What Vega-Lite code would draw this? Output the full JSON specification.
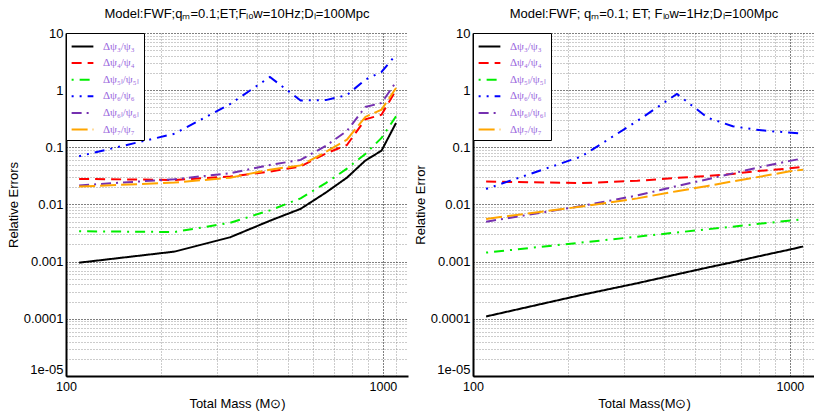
{
  "$schema": "https://vega.github.io/schema/vega-lite/v6.json",
  "background": "white",
  "padding": {"left": 7, "top": 8, "right": 0, "bottom": 0},
  "spacing": 6,
  "datasets": {
    "left": [
      {"m": 110, "v": 0.00096, "s": "Δψ₃/ψ₃"}, {"m": 220, "v": 0.0015, "s": "Δψ₃/ψ₃"}, {"m": 330, "v": 0.00268, "s": "Δψ₃/ψ₃"}, {"m": 440, "v": 0.0052, "s": "Δψ₃/ψ₃"}, {"m": 550, "v": 0.0084, "s": "Δψ₃/ψ₃"}, {"m": 660, "v": 0.0161, "s": "Δψ₃/ψ₃"}, {"m": 770, "v": 0.0295, "s": "Δψ₃/ψ₃"}, {"m": 880, "v": 0.0586, "s": "Δψ₃/ψ₃"}, {"m": 990, "v": 0.0875, "s": "Δψ₃/ψ₃"}, {"m": 1100, "v": 0.267, "s": "Δψ₃/ψ₃"},
      {"m": 110, "v": 0.028, "s": "Δψ₄/ψ₄"}, {"m": 220, "v": 0.0269, "s": "Δψ₄/ψ₄"}, {"m": 330, "v": 0.0308, "s": "Δψ₄/ψ₄"}, {"m": 440, "v": 0.0376, "s": "Δψ₄/ψ₄"}, {"m": 550, "v": 0.0463, "s": "Δψ₄/ψ₄"}, {"m": 660, "v": 0.078, "s": "Δψ₄/ψ₄"}, {"m": 770, "v": 0.11, "s": "Δψ₄/ψ₄"}, {"m": 880, "v": 0.308, "s": "Δψ₄/ψ₄"}, {"m": 990, "v": 0.373, "s": "Δψ₄/ψ₄"}, {"m": 1100, "v": 1.0, "s": "Δψ₄/ψ₄"},
      {"m": 110, "v": 0.0034, "s": "Δψ₅ₗ/ψ₅ₗ"}, {"m": 220, "v": 0.0033, "s": "Δψ₅ₗ/ψ₅ₗ"}, {"m": 330, "v": 0.0048, "s": "Δψ₅ₗ/ψ₅ₗ"}, {"m": 440, "v": 0.0079, "s": "Δψ₅ₗ/ψ₅ₗ"}, {"m": 550, "v": 0.0128, "s": "Δψ₅ₗ/ψ₅ₗ"}, {"m": 660, "v": 0.0237, "s": "Δψ₅ₗ/ψ₅ₗ"}, {"m": 770, "v": 0.0423, "s": "Δψ₅ₗ/ψ₅ₗ"}, {"m": 880, "v": 0.0767, "s": "Δψ₅ₗ/ψ₅ₗ"}, {"m": 990, "v": 0.146, "s": "Δψ₅ₗ/ψ₅ₗ"}, {"m": 1100, "v": 0.35, "s": "Δψ₅ₗ/ψ₅ₗ"},
      {"m": 110, "v": 0.07, "s": "Δψ₆/ψ₆"}, {"m": 220, "v": 0.173, "s": "Δψ₆/ψ₆"}, {"m": 330, "v": 0.574, "s": "Δψ₆/ψ₆"}, {"m": 440, "v": 1.7, "s": "Δψ₆/ψ₆"}, {"m": 550, "v": 0.66, "s": "Δψ₆/ψ₆"}, {"m": 660, "v": 0.67, "s": "Δψ₆/ψ₆"}, {"m": 770, "v": 0.82, "s": "Δψ₆/ψ₆"}, {"m": 880, "v": 1.53, "s": "Δψ₆/ψ₆"}, {"m": 990, "v": 2.08, "s": "Δψ₆/ψ₆"}, {"m": 1100, "v": 4.18, "s": "Δψ₆/ψ₆"},
      {"m": 110, "v": 0.0216, "s": "Δψ₆ₗ/ψ₆ₗ"}, {"m": 220, "v": 0.0277, "s": "Δψ₆ₗ/ψ₆ₗ"}, {"m": 330, "v": 0.0352, "s": "Δψ₆ₗ/ψ₆ₗ"}, {"m": 440, "v": 0.0492, "s": "Δψ₆ₗ/ψ₆ₗ"}, {"m": 550, "v": 0.0603, "s": "Δψ₆ₗ/ψ₆ₗ"}, {"m": 660, "v": 0.1057, "s": "Δψ₆ₗ/ψ₆ₗ"}, {"m": 770, "v": 0.194, "s": "Δψ₆ₗ/ψ₆ₗ"}, {"m": 880, "v": 0.508, "s": "Δψ₆ₗ/ψ₆ₗ"}, {"m": 990, "v": 0.597, "s": "Δψ₆ₗ/ψ₆ₗ"}, {"m": 1100, "v": 1.39, "s": "Δψ₆ₗ/ψ₆ₗ"},
      {"m": 110, "v": 0.0206, "s": "Δψ₇/ψ₇"}, {"m": 220, "v": 0.0242, "s": "Δψ₇/ψ₇"}, {"m": 330, "v": 0.0295, "s": "Δψ₇/ψ₇"}, {"m": 440, "v": 0.0407, "s": "Δψ₇/ψ₇"}, {"m": 550, "v": 0.0483, "s": "Δψ₇/ψ₇"}, {"m": 660, "v": 0.083, "s": "Δψ₇/ψ₇"}, {"m": 770, "v": 0.136, "s": "Δψ₇/ψ₇"}, {"m": 880, "v": 0.34, "s": "Δψ₇/ψ₇"}, {"m": 990, "v": 0.456, "s": "Δψ₇/ψ₇"}, {"m": 1100, "v": 1.09, "s": "Δψ₇/ψ₇"}
    ],
    "right": [
      {"m": 110, "v": 0.00011, "s": "Δψ₃/ψ₃"}, {"m": 220, "v": 0.000262, "s": "Δψ₃/ψ₃"}, {"m": 330, "v": 0.00042, "s": "Δψ₃/ψ₃"}, {"m": 440, "v": 0.0006, "s": "Δψ₃/ψ₃"}, {"m": 550, "v": 0.00079, "s": "Δψ₃/ψ₃"}, {"m": 660, "v": 0.00098, "s": "Δψ₃/ψ₃"}, {"m": 770, "v": 0.00119, "s": "Δψ₃/ψ₃"}, {"m": 880, "v": 0.0014, "s": "Δψ₃/ψ₃"}, {"m": 990, "v": 0.00161, "s": "Δψ₃/ψ₃"}, {"m": 1100, "v": 0.00184, "s": "Δψ₃/ψ₃"},
      {"m": 110, "v": 0.0252, "s": "Δψ₄/ψ₄"}, {"m": 220, "v": 0.0237, "s": "Δψ₄/ψ₄"}, {"m": 330, "v": 0.026, "s": "Δψ₄/ψ₄"}, {"m": 440, "v": 0.0292, "s": "Δψ₄/ψ₄"}, {"m": 550, "v": 0.0316, "s": "Δψ₄/ψ₄"}, {"m": 660, "v": 0.0343, "s": "Δψ₄/ψ₄"}, {"m": 770, "v": 0.0379, "s": "Δψ₄/ψ₄"}, {"m": 880, "v": 0.0403, "s": "Δψ₄/ψ₄"}, {"m": 990, "v": 0.0427, "s": "Δψ₄/ψ₄"}, {"m": 1100, "v": 0.0458, "s": "Δψ₄/ψ₄"},
      {"m": 110, "v": 0.00144, "s": "Δψ₅ₗ/ψ₅ₗ"}, {"m": 220, "v": 0.00216, "s": "Δψ₅ₗ/ψ₅ₗ"}, {"m": 330, "v": 0.00274, "s": "Δψ₅ₗ/ψ₅ₗ"}, {"m": 440, "v": 0.00324, "s": "Δψ₅ₗ/ψ₅ₗ"}, {"m": 550, "v": 0.00369, "s": "Δψ₅ₗ/ψ₅ₗ"}, {"m": 660, "v": 0.0041, "s": "Δψ₅ₗ/ψ₅ₗ"}, {"m": 770, "v": 0.00449, "s": "Δψ₅ₗ/ψ₅ₗ"}, {"m": 880, "v": 0.00485, "s": "Δψ₅ₗ/ψ₅ₗ"}, {"m": 990, "v": 0.0052, "s": "Δψ₅ₗ/ψ₅ₗ"}, {"m": 1100, "v": 0.00553, "s": "Δψ₅ₗ/ψ₅ₗ"},
      {"m": 110, "v": 0.0187, "s": "Δψ₆/ψ₆"}, {"m": 220, "v": 0.0693, "s": "Δψ₆/ψ₆"}, {"m": 330, "v": 0.29, "s": "Δψ₆/ψ₆"}, {"m": 440, "v": 0.859, "s": "Δψ₆/ψ₆"}, {"m": 550, "v": 0.33, "s": "Δψ₆/ψ₆"}, {"m": 660, "v": 0.234, "s": "Δψ₆/ψ₆"}, {"m": 770, "v": 0.206, "s": "Δψ₆/ψ₆"}, {"m": 880, "v": 0.191, "s": "Δψ₆/ψ₆"}, {"m": 990, "v": 0.182, "s": "Δψ₆/ψ₆"}, {"m": 1100, "v": 0.174, "s": "Δψ₆/ψ₆"},
      {"m": 110, "v": 0.005, "s": "Δψ₆ₗ/ψ₆ₗ"}, {"m": 220, "v": 0.0094, "s": "Δψ₆ₗ/ψ₆ₗ"}, {"m": 330, "v": 0.0144, "s": "Δψ₆ₗ/ψ₆ₗ"}, {"m": 440, "v": 0.021, "s": "Δψ₆ₗ/ψ₆ₗ"}, {"m": 550, "v": 0.0277, "s": "Δψ₆ₗ/ψ₆ₗ"}, {"m": 660, "v": 0.035, "s": "Δψ₆ₗ/ψ₆ₗ"}, {"m": 770, "v": 0.0426, "s": "Δψ₆ₗ/ψ₆ₗ"}, {"m": 880, "v": 0.05, "s": "Δψ₆ₗ/ψ₆ₗ"}, {"m": 990, "v": 0.0574, "s": "Δψ₆ₗ/ψ₆ₗ"}, {"m": 1100, "v": 0.064, "s": "Δψ₆ₗ/ψ₆ₗ"},
      {"m": 110, "v": 0.0056, "s": "Δψ₇/ψ₇"}, {"m": 220, "v": 0.0092, "s": "Δψ₇/ψ₇"}, {"m": 330, "v": 0.0128, "s": "Δψ₇/ψ₇"}, {"m": 440, "v": 0.0171, "s": "Δψ₇/ψ₇"}, {"m": 550, "v": 0.0211, "s": "Δψ₇/ψ₇"}, {"m": 660, "v": 0.0254, "s": "Δψ₇/ψ₇"}, {"m": 770, "v": 0.0294, "s": "Δψ₇/ψ₇"}, {"m": 880, "v": 0.0336, "s": "Δψ₇/ψ₇"}, {"m": 990, "v": 0.0378, "s": "Δψ₇/ψ₇"}, {"m": 1100, "v": 0.0407, "s": "Δψ₇/ψ₇"}
    ]
  },
  "config": {
    "font": "Liberation Sans",
    "view": {"stroke": null},
    "title": {"fontSize": 13, "font": "Liberation Sans", "fontWeight": "normal", "color": "black", "offset": 6, "anchor": "middle"},
    "axis": {
      "domainColor": "black", "domainWidth": 2, "ticks": false,
      "labelFont": "Liberation Sans", "labelFontSize": 13, "labelColor": "black",
      "titleFont": "Liberation Sans", "titleFontSize": 13, "titleFontWeight": "normal", "titleColor": "black",
      "labelOverlap": false, "labelFlush": false, "labelPadding": 3, "titlePadding": 3,
      "gridDash": [1, 2], "gridWidth": 1, "gridOpacity": 1
    },
    "axisX": {"titlePadding": 5, "labelPadding": 4},
    "legend": {
      "orient": "top-left", "offset": 0, "title": null,
      "strokeColor": "black", "fillColor": "white", "padding": 5, "cornerRadius": 0,
      "labelFont": "Liberation Serif", "labelFontSize": 11, "labelColor": "#9966DD",
      "symbolType": "M-1.45,0H1.45", "symbolSize": 225, "symbolStrokeWidth": 2, "symbolOffset": 3,
      "labelOffset": 12, "rowPadding": 2.6
    },
    "line": {"strokeWidth": 2, "clip": true}
  },
  "hconcat": [
    {
      "width": 342, "height": 343,
      "title": "Model:FWF;qₘ=0.1;ET;Fₗₒw=10Hz;Dₗ=100Mpc",
      "data": {"name": "left"},
      "mark": {"type": "line"},
      "encoding": {
        "x": {"field": "m", "type": "quantitative", "scale": {"type": "log", "domain": [100, 1200], "nice": false},
          "axis": {"title": "Total Mass (M⊙)", "labelFontSize": 12.5,
            "values": [100, 200, 300, 400, 500, 600, 700, 800, 900, 1000, 1100],
            "labelExpr": "datum.value == 100 || datum.value == 1000 ? toString(datum.value) : ''",
            "gridColor": {"condition": {"test": "datum.value == 100 || datum.value == 1000", "value": "black"}, "value": "#999999"}}},
        "y": {"field": "v", "type": "quantitative", "scale": {"type": "log", "domain": [0.00001, 10], "nice": false},
          "axis": {"title": "Relative Errors",
            "values": [0.00001, 0.00002, 0.00003, 0.00004, 0.00005, 0.00006, 0.00007, 0.00008, 0.00009, 0.0001, 0.0002, 0.0003, 0.0004, 0.0005, 0.0006, 0.0007, 0.0008, 0.0009, 0.001, 0.002, 0.003, 0.004, 0.005, 0.006, 0.007, 0.008, 0.009, 0.01, 0.02, 0.03, 0.04, 0.05, 0.06, 0.07, 0.08, 0.09, 0.1, 0.2, 0.3, 0.4, 0.5, 0.6, 0.7, 0.8, 0.9, 1, 2, 3, 4, 5, 6, 7, 8, 9, 10],
            "labelExpr": "datum.value == 0.00001 ? '1e-05' : (indexof([0.0001, 0.001, 0.01, 0.1, 1, 10], datum.value) >= 0 ? toString(datum.value) : '')",
            "labelBaseline": {"condition": {"test": "datum.value == 0.00001", "value": "bottom"}, "value": "middle"},
            "gridColor": {"condition": {"test": "indexof([0.00001, 0.0001, 0.001, 0.01, 0.1, 1, 10], datum.value) >= 0", "value": "black"}, "value": "#999999"}}},
        "color": {"field": "s", "type": "nominal",
          "scale": {"domain": ["Δψ₃/ψ₃", "Δψ₄/ψ₄", "Δψ₅ₗ/ψ₅ₗ", "Δψ₆/ψ₆", "Δψ₆ₗ/ψ₆ₗ", "Δψ₇/ψ₇"], "range": ["#000000", "#FF0000", "#00EE00", "#0000FF", "#7530B0", "#FFA500"]}},
        "strokeDash": {"field": "s", "type": "nominal",
          "scale": {"domain": ["Δψ₃/ψ₃", "Δψ₄/ψ₄", "Δψ₅ₗ/ψ₅ₗ", "Δψ₆/ψ₆", "Δψ₆ₗ/ψ₆ₗ", "Δψ₇/ψ₇"], "range": [[1, 0], [10, 6], [2, 6, 10, 6], [2, 6, 2, 6, 10, 6], [10, 5, 2, 5], [16, 5]]}}
      }
    },
    {
      "width": 342, "height": 343,
      "title": "Model:FWF; qₘ=0.1; ET;  Fₗₒw=1Hz;Dₗ=100Mpc",
      "data": {"name": "right"},
      "mark": {"type": "line"},
      "encoding": {
        "x": {"field": "m", "type": "quantitative", "scale": {"type": "log", "domain": [100, 1200], "nice": false},
          "axis": {"title": "Total Mass(M⊙)", "labelFontSize": 12.5,
            "values": [100, 200, 300, 400, 500, 600, 700, 800, 900, 1000, 1100],
            "labelExpr": "datum.value == 100 || datum.value == 1000 ? toString(datum.value) : ''",
            "gridColor": {"condition": {"test": "datum.value == 100 || datum.value == 1000", "value": "black"}, "value": "#999999"}}},
        "y": {"field": "v", "type": "quantitative", "scale": {"type": "log", "domain": [0.00001, 10], "nice": false},
          "axis": {"title": "Relative Error",
            "values": [0.00001, 0.00002, 0.00003, 0.00004, 0.00005, 0.00006, 0.00007, 0.00008, 0.00009, 0.0001, 0.0002, 0.0003, 0.0004, 0.0005, 0.0006, 0.0007, 0.0008, 0.0009, 0.001, 0.002, 0.003, 0.004, 0.005, 0.006, 0.007, 0.008, 0.009, 0.01, 0.02, 0.03, 0.04, 0.05, 0.06, 0.07, 0.08, 0.09, 0.1, 0.2, 0.3, 0.4, 0.5, 0.6, 0.7, 0.8, 0.9, 1, 2, 3, 4, 5, 6, 7, 8, 9, 10],
            "labelExpr": "datum.value == 0.00001 ? '1e-05' : (indexof([0.0001, 0.001, 0.01, 0.1, 1, 10], datum.value) >= 0 ? toString(datum.value) : '')",
            "labelBaseline": {"condition": {"test": "datum.value == 0.00001", "value": "bottom"}, "value": "middle"},
            "gridColor": {"condition": {"test": "indexof([0.00001, 0.0001, 0.001, 0.01, 0.1, 1, 10], datum.value) >= 0", "value": "black"}, "value": "#999999"}}},
        "color": {"field": "s", "type": "nominal",
          "scale": {"domain": ["Δψ₃/ψ₃", "Δψ₄/ψ₄", "Δψ₅ₗ/ψ₅ₗ", "Δψ₆/ψ₆", "Δψ₆ₗ/ψ₆ₗ", "Δψ₇/ψ₇"], "range": ["#000000", "#FF0000", "#00EE00", "#0000FF", "#7530B0", "#FFA500"]}},
        "strokeDash": {"field": "s", "type": "nominal",
          "scale": {"domain": ["Δψ₃/ψ₃", "Δψ₄/ψ₄", "Δψ₅ₗ/ψ₅ₗ", "Δψ₆/ψ₆", "Δψ₆ₗ/ψ₆ₗ", "Δψ₇/ψ₇"], "range": [[1, 0], [10, 6], [2, 6, 10, 6], [2, 6, 2, 6, 10, 6], [10, 5, 2, 5], [16, 5]]}}
      }
    }
  ],
  "resolve": {"scale": {"color": "independent", "strokeDash": "independent"}, "legend": {"color": "independent", "strokeDash": "independent"}}
}
